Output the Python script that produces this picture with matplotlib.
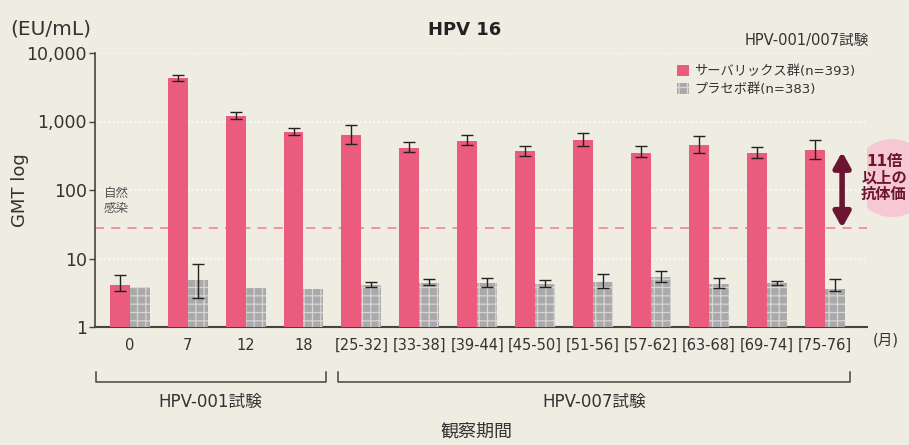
import numpy as np
import matplotlib
matplotlib.use('Agg')
import matplotlib.pyplot as plt
from matplotlib.patches import Patch, Ellipse

plt.rcParams['font.family'] = ['DejaVu Sans', 'Noto Sans CJK JP']
plt.rcParams['hatch.linewidth'] = 0.9

# データ
kikan = ['0', '7', '12', '18', '[25-32]', '[33-38]', '[39-44]', '[45-50]',
         '[51-56]', '[57-62]', '[63-68]', '[69-74]', '[75-76]']
cervarix = [4.1, 4300, 1200, 700, 635, 410, 520, 370, 540, 345, 455, 345, 385]
cervarix_hi = [5.7, 4700, 1370, 810, 890, 500, 630, 440, 680, 440, 610, 420, 535]
cervarix_lo = [3.4, 3900, 1090, 630, 470, 360, 450, 315, 440, 300, 345, 295, 285]
placebo = [3.8, 4.9, 3.7, 3.6, 4.1, 4.4, 4.4, 4.25, 4.5, 5.4, 4.25, 4.4, 3.6]
placebo_hi = [np.nan, 8.3, np.nan, np.nan, 4.5, 5.0, 5.2, 4.85, 5.9, 6.6, 5.2, 4.7, 5.0]
placebo_lo = [np.nan, 2.65, np.nan, np.nan, 3.8, 4.1, 3.8, 3.8, 3.7, 4.5, 3.7, 4.1, 3.4]
shizen_kansen = 28

bg = '#efece1'
pink = '#ea5b7d'
maroon = '#6b1530'
txt = '#333333'

fig = plt.figure(figsize=(9.09, 4.45), dpi=100, facecolor=bg)
ax = fig.add_axes([95/909, 1-327/445, 772/909, 274/445])
ax.set_facecolor(bg)

x = np.arange(len(kikan))
w = 0.345
cv = np.array(cervarix)
pl = np.array(placebo)

ax.bar(x - w/2, cv, width=w, color=pink, zorder=3)
ax.bar(x + w/2, pl, width=w, color='#a9a9a9', edgecolor='#d6d6d6',
       linewidth=0, hatch='++', zorder=3)

ax.errorbar(x - w/2, cv, yerr=[cv - np.array(cervarix_lo), np.array(cervarix_hi) - cv],
            fmt='none', ecolor='#222222', elinewidth=1, capsize=4, capthick=1, zorder=4)
ph = np.array(placebo_hi)
plo = np.array(placebo_lo)
m = ~np.isnan(ph)
ax.errorbar((x + w/2)[m], pl[m], yerr=[pl[m] - plo[m], ph[m] - pl[m]],
            fmt='none', ecolor='#222222', elinewidth=1, capsize=4, capthick=1, zorder=4)

ax.set_yscale('log')
ax.set_ylim(1, 10000)
ax.set_xlim(-0.6, 12.73)
ax.set_yticks([1, 10, 100, 1000, 10000])
ax.set_yticklabels(['1', '10', '100', '1,000', '10,000'], fontsize=12.5, color=txt)
ax.minorticks_off()
ax.set_xticks(x)
ax.set_xticklabels(kikan, fontsize=10.5, color=txt)
ax.tick_params(axis='x', length=0, pad=8)
ax.tick_params(axis='y', length=4, width=1, color='#444444', pad=2)
for s in ['top', 'right']:
    ax.spines[s].set_visible(False)
ax.spines['left'].set_color('#444444')
ax.spines['bottom'].set_color('#444444')
ax.spines['left'].set_linewidth(1.2)
ax.spines['bottom'].set_linewidth(1.5)
ax.grid(axis='y', color='white', linestyle=':', linewidth=1.2, zorder=1)

# 自然感染ライン
ax.axhline(shizen_kansen, color='#f08ca0', linestyle=(0, (5, 4)), linewidth=1.3, zorder=2)
ax.text(-0.45, 110, '自然\n感染', fontsize=9, color='#555555', va='top', ha='left', linespacing=1.2)

# 11倍の矢印
ax.annotate('', xy=(12.3, shizen_kansen), xytext=(12.3, 360),
            arrowprops=dict(arrowstyle='<|-|>,head_width=0.5,head_length=0.9',
                            color=maroon, lw=4, shrinkA=0, shrinkB=0),
            annotation_clip=False, zorder=5)

fig.add_artist(Ellipse((892/909, 1-178/445), 78/909, 78/445, transform=fig.transFigure,
                       facecolor='#f6c8d3', edgecolor='none', zorder=0))
fig.text(884/909, 1-178/445, '11倍\n以上の\n抗体価', fontsize=11, fontweight='bold',
         color=maroon, ha='center', va='center', linespacing=1.1)

# タイトルなど
fig.text(465/909, 1-30/445, 'HPV 16', fontsize=13, fontweight='bold', ha='center',
         va='center', color='#222222')
fig.text(10/909, 1-29/445, '(EU/mL)', fontsize=14.5, ha='left', va='center', color=txt)
fig.text(869/909, 1-40/445, 'HPV-001/007試験', fontsize=10.5, ha='right', va='center',
         color=txt)
fig.text(20/909, 1-190/445, 'GMT log', fontsize=13, rotation=90, ha='center', va='center',
         color=txt)
fig.text(873/909, 1-340/445, '(月)', fontsize=10.5, ha='left', va='center', color=txt)

handles = [Patch(facecolor=pink, edgecolor='none', label='サーバリックス群(n=393)'),
           Patch(facecolor='#a9a9a9', edgecolor='#d6d6d6', linewidth=0, hatch='++',
                 label='プラセボ群(n=383)')]
fig.legend(handles=handles, loc='upper left', bbox_to_anchor=(677/909, 1-65/445),
           frameon=False, fontsize=9.5, handlelength=0.9, handleheight=0.9,
           handletextpad=0.4, labelspacing=0.35, borderaxespad=0, borderpad=0,
           labelcolor=txt)

# 試験ブラケット
def bracket(x0, x1, label, lx):
    y0 = 1 - 382/445
    y1 = 1 - 372/445
    fig.add_artist(plt.Line2D([x0/909, x0/909, x1/909, x1/909], [y1, y0, y0, y1],
                              transform=fig.transFigure, color='#444444', lw=1.1))
    fig.text(lx/909, 1-402/445, label, fontsize=12, ha='center', va='center', color=txt)

bracket(96, 326, 'HPV-001試験', 210)
bracket(338, 850, 'HPV-007試験', 594)
fig.text(476/909, 1-432/445, '観察期間', fontsize=13, ha='center', va='center', color=txt)

fig.savefig('out.png', dpi=100, facecolor=bg)
